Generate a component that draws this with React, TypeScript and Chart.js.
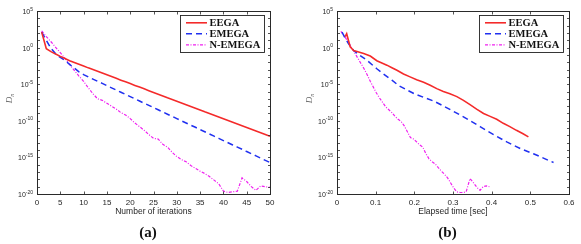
import React, { useEffect, useRef } from 'react';
import { Chart, registerables } from 'chart.js';

Chart.register(...registerables);

// ---------- data ----------
const seriesNames = ['EEGA', 'EMEGA', 'N-EMEGA'];
const seriesColors = ['#f42a2a', '#2030f0', '#f020f0'];

// (a) iterations
const iterations = [
  1, 2, 3, 4, 5, 6, 7, 8, 9, 10, 11, 12, 13, 14, 15, 16, 17, 18, 19, 20, 21, 22, 23, 24, 25,
  26, 27, 28, 29, 30, 31, 32, 33, 34, 35, 36, 37, 38, 39, 40, 41, 42, 43, 44, 45, 46, 47, 48, 49, 50,
];
const eegaIter = [
  1.3e2, 7.0e-1, 2.8e-1, 1.3e-1, 6.3e-2, 3.2e-2, 1.6e-2, 9.1e-3, 5.2e-3, 3.0e-3,
  1.7e-3, 1.0e-3, 5.8e-4, 3.3e-4, 1.9e-4, 1.1e-4, 6.3e-5, 3.6e-5, 2.1e-5, 1.2e-5,
  6.9e-6, 4.0e-6, 2.3e-6, 1.3e-6, 7.6e-7, 4.4e-7, 2.5e-7, 1.4e-7, 8.3e-8, 4.8e-8,
  2.8e-8, 1.6e-8, 9.1e-9, 5.2e-9, 3.0e-9, 1.7e-9, 1.0e-9, 5.8e-10, 3.3e-10, 1.9e-10,
  1.1e-10, 6.3e-11, 3.6e-11, 2.1e-11, 1.2e-11, 6.9e-12, 4.0e-12, 2.3e-12, 1.3e-12, 7.6e-13,
];
const emegaIter = [
  1.3e2, 1.0e1, 7.9e-1, 1.4e-1, 4.5e-2, 1.8e-2, 5.0e-3, 1.6e-3, 5.0e-4, 2.0e-4,
  1.0e-4, 5.0e-5, 2.5e-5, 1.3e-5, 6.3e-6, 3.2e-6, 1.6e-6, 7.9e-7, 4.0e-7, 2.0e-7,
  1.0e-7, 5.0e-8, 2.5e-8, 1.3e-8, 6.3e-9, 3.2e-9, 1.6e-9, 7.9e-10, 4.0e-10, 2.0e-10,
  1.0e-10, 5.0e-11, 2.5e-11, 1.3e-11, 6.3e-12, 3.2e-12, 1.6e-12, 7.9e-13, 4.0e-13, 2.0e-13,
  1.0e-13, 5.0e-14, 2.5e-14, 1.3e-14, 6.3e-15, 3.2e-15, 1.6e-15, 7.9e-16, 4.0e-16, 2.0e-16,
];
const nemegaIter = [
  2.0e2, 3.2e1, 6.3e0, 1.1e0, 2.0e-1, 3.5e-2, 5.0e-3, 7.9e-4, 1.3e-4, 2.5e-5,
  3.2e-6, 5.0e-7, 1.0e-7, 6.3e-8, 2.5e-8, 1.0e-8, 4.0e-9, 1.3e-9, 6.3e-10, 2.0e-10,
  5.0e-11, 1.6e-11, 5.0e-12, 1.3e-12, 4.0e-13, 3.2e-13, 6.3e-14, 2.5e-14, 5.0e-15, 1.3e-15,
  5.0e-16, 2.5e-16, 7.9e-17, 3.2e-17, 1.3e-17, 6.3e-18, 2.5e-18, 7.9e-19, 2.5e-19, 2.5e-20,
  1.6e-20, 2.0e-20, 2.5e-20, 1.6e-18, 5.0e-19, 1.0e-19, 3.2e-20, 1.3e-19, 1.0e-19, 7.9e-20,
];

// (b) elapsed time [sec]
const eegaTime = [
  0.021, 0.025, 0.034, 0.043, 0.056, 0.069, 0.086, 0.103, 0.116, 0.129, 0.142, 0.155, 0.172,
  0.189, 0.206, 0.224, 0.241, 0.258, 0.275, 0.292, 0.310, 0.327, 0.344, 0.361, 0.379, 0.396,
  0.413, 0.430, 0.447, 0.464, 0.480, 0.495,
];
const eegaTimeVals = [
  3.2e1, 7.9e1, 1.3e0, 4.0e-1, 2.5e-1, 1.6e-1, 7.1e-2, 1.6e-2, 7.9e-3, 4.0e-3, 1.8e-3, 7.9e-4, 2.5e-4,
  1.0e-4, 4.0e-5, 1.8e-5, 7.1e-6, 2.5e-6, 1.0e-6, 5.0e-7, 2.0e-7, 6.3e-8, 1.6e-8, 4.0e-9, 1.0e-9, 4.0e-10,
  1.6e-10, 4.5e-11, 1.6e-11, 5.0e-12, 1.8e-12, 6.3e-13,
];
const emegaTime = [
  0.013, 0.020, 0.030, 0.043, 0.060, 0.077, 0.090, 0.103, 0.120, 0.142, 0.160, 0.181, 0.200,
  0.224, 0.250, 0.276, 0.301, 0.335, 0.370, 0.405, 0.439, 0.474, 0.508, 0.534, 0.560,
];
const emegaTimeVals = [
  1.3e2, 2.5e1, 3.2e0, 4.0e-1, 7.9e-2, 2.0e-2, 5.0e-3, 1.3e-3, 2.5e-4, 3.5e-5, 6.3e-6, 1.6e-6, 5.0e-7,
  1.6e-7, 5.0e-8, 1.0e-8, 2.0e-9, 2.0e-10, 1.6e-11, 1.3e-12, 1.3e-13, 1.6e-14, 3.2e-15, 7.9e-16, 2.0e-16,
];
const nemegaTime = [
  0.010, 0.020, 0.030, 0.040, 0.050, 0.060, 0.070, 0.078, 0.086, 0.094, 0.102, 0.110, 0.118, 0.126,
  0.134, 0.142, 0.150, 0.158, 0.166, 0.174, 0.182, 0.190, 0.198, 0.206, 0.214, 0.222, 0.230, 0.238,
  0.246, 0.254, 0.262, 0.270, 0.278, 0.286, 0.294, 0.302, 0.310, 0.318, 0.326, 0.334, 0.344, 0.352,
  0.362, 0.370, 0.378, 0.386, 0.394,
];
const nemegaTimeVals = [
  1.6e2, 3.2e1, 5.0e0, 6.3e-1, 7.9e-2, 1.0e-2, 1.3e-3, 2.0e-4, 2.5e-5, 4.0e-6, 6.3e-7, 1.3e-7, 3.2e-8, 7.9e-9,
  3.2e-9, 1.3e-9, 4.0e-10, 1.6e-10, 7.9e-11, 2.0e-11, 3.2e-12, 5.0e-13, 3.2e-13, 1.3e-13, 5.0e-14, 2.5e-14, 3.2e-15, 6.3e-16,
  2.5e-16, 1.3e-16, 4.0e-17, 1.3e-17, 5.0e-18, 1.6e-18, 3.2e-19, 6.3e-20, 2.0e-20, 1.6e-20, 1.6e-20, 2.0e-20, 1.3e-18, 4.0e-19,
  7.9e-20, 3.2e-20, 1.0e-19, 1.3e-19, 1.0e-19,
];

// ticks
const yMajorTicks = [1e5, 1e0, 1e-5, 1e-10, 1e-15, 1e-20];
const yMajorExpLabels = ['5', '0', '-5', '-10', '-15', '-20'];
const yMinorTicks = [
  1e5, 1e4, 1e3, 1e2, 1e1, 1e0, 1e-1, 1e-2, 1e-3, 1e-4, 1e-5, 1e-6, 1e-7, 1e-8, 1e-9, 1e-10,
  1e-11, 1e-12, 1e-13, 1e-14, 1e-15, 1e-16, 1e-17, 1e-18, 1e-19, 1e-20,
];
const xTicksIter = [0, 5, 10, 15, 20, 25, 30, 35, 40, 45, 50];
const xTickLabelsIter = ['0', '5', '10', '15', '20', '25', '30', '35', '40', '45', '50'];
const xTicksTime = [0, 0.1, 0.2, 0.3, 0.4, 0.5, 0.6];
const xTickLabelsTime = ['0', '0.1', '0.2', '0.3', '0.4', '0.5', '0.6'];

// ---------- styling ----------
const SANS = '"Liberation Sans", Arial, Helvetica, sans-serif';
const SERIF = '"Liberation Serif", "Times New Roman", serif';
const dashes: number[][] = [[], [6, 4], [3, 1.5, 1, 1.5]];
const widths = [1.6, 1.5, 1.2];

function pts(xs: number[], ys: number[]) {
  return xs.map((x, i) => ({ x, y: ys[i] }));
}

function makeDatasets(series: { x: number; y: number }[][]) {
  return series.map((data, i) => ({
    label: seriesNames[i],
    data,
    borderColor: seriesColors[i],
    backgroundColor: seriesColors[i],
    borderWidth: widths[i],
    borderDash: dashes[i],
    pointRadius: 0,
    fill: false,
    tension: 0,
  }));
}

function decorPlugin(cfg: {
  xTicks: number[];
  xLabels: string[];
  xTitle: string;
  caption: string;
}) {
  return {
    id: 'matlabDecor',
    afterDatasetsDraw(chart: any) {
      const { ctx, chartArea: ca } = chart;
      const xs = chart.scales.x;
      const ys = chart.scales.y;
      ctx.save();
      // frame
      ctx.strokeStyle = '#2a2a2a';
      ctx.lineWidth = 1;
      ctx.setLineDash([]);
      const L = Math.round(ca.left) + 0.5;
      const R = Math.round(ca.right) + 0.5;
      const T = Math.round(ca.top) + 0.5;
      const B = Math.round(ca.bottom) + 0.5;
      ctx.strokeRect(L, T, R - L, B - T);
      // ticks
      ctx.lineWidth = 0.8;
      ctx.beginPath();
      cfg.xTicks.forEach((v) => {
        const px = Math.round(xs.getPixelForValue(v)) + 0.5;
        ctx.moveTo(px, B);
        ctx.lineTo(px, B - 3);
        ctx.moveTo(px, T);
        ctx.lineTo(px, T + 3);
      });
      yMinorTicks.forEach((v) => {
        const py = Math.round(ys.getPixelForValue(v)) + 0.5;
        ctx.moveTo(L, py);
        ctx.lineTo(L + 2.5, py);
        ctx.moveTo(R, py);
        ctx.lineTo(R - 2.5, py);
      });
      ctx.stroke();

      // x tick labels
      ctx.fillStyle = '#262626';
      ctx.font = `8px ${SANS}`;
      ctx.textAlign = 'center';
      ctx.textBaseline = 'middle';
      cfg.xTicks.forEach((v, i) => {
        ctx.fillText(cfg.xLabels[i], xs.getPixelForValue(v), ca.bottom + 8.5);
      });
      // x title
      ctx.font = `8.5px ${SANS}`;
      ctx.fillText(cfg.xTitle, (ca.left + ca.right) / 2, ca.bottom + 18);

      // y tick labels (10 with superscript)
      ctx.textAlign = 'left';
      ctx.textBaseline = 'alphabetic';
      yMajorTicks.forEach((v, i) => {
        const py = ys.getPixelForValue(v);
        const exp = yMajorExpLabels[i];
        ctx.font = `5px ${SANS}`;
        const ew = ctx.measureText(exp).width;
        ctx.font = `7px ${SANS}`;
        const bw = ctx.measureText('10').width;
        const xEnd = ca.left - 4;
        ctx.fillText('10', xEnd - ew - bw, py + 3);
        ctx.font = `5px ${SANS}`;
        ctx.fillText(exp, xEnd - ew, py - 0.5);
      });

      // y title D_n
      ctx.save();
      ctx.translate(ca.left - 27, ca.top + 87);
      ctx.rotate(-Math.PI / 2);
      ctx.fillStyle = '#666';
      ctx.font = `italic 9px ${SERIF}`;
      ctx.textAlign = 'left';
      ctx.textBaseline = 'middle';
      const dw = ctx.measureText('D').width;
      ctx.fillText('D', -dw / 2 - 2, 0);
      ctx.font = `italic 6px ${SERIF}`;
      ctx.fillText('n', dw / 2 - 2, 2.5);
      ctx.restore();

      // legend
      const bx = ca.right - 84 - 6;
      const by = ca.top + 4;
      const bw2 = 84;
      const bh = 37;
      ctx.fillStyle = '#fff';
      ctx.fillRect(bx, by, bw2, bh);
      ctx.strokeStyle = '#222';
      ctx.lineWidth = 0.9;
      ctx.strokeRect(Math.round(bx) + 0.5, Math.round(by) + 0.5, bw2, bh);
      chart.data.datasets.forEach((ds: any, i: number) => {
        const ry = by + 7.8 + i * 11;
        ctx.strokeStyle = ds.borderColor;
        ctx.lineWidth = ds.borderWidth;
        ctx.setLineDash(ds.borderDash || []);
        ctx.beginPath();
        ctx.moveTo(bx + 6, ry);
        ctx.lineTo(bx + 27, ry);
        ctx.stroke();
        ctx.setLineDash([]);
        ctx.fillStyle = '#111';
        ctx.font = `bold 10.5px ${SERIF}`;
        ctx.textAlign = 'left';
        ctx.textBaseline = 'middle';
        ctx.fillText(ds.label, bx + 29.5, ry + 0.5);
      });

      // caption
      ctx.fillStyle = '#111';
      ctx.font = `bold 15px ${SERIF}`;
      ctx.textAlign = 'center';
      ctx.textBaseline = 'middle';
      ctx.fillText(cfg.caption, (ca.left + ca.right) / 2 - 5.5, 233);
      ctx.restore();
    },
  };
}

type PanelProps = {
  left: number;
  width: number;
  padLeft: number;
  padRight: number;
  xMax: number;
  series: { x: number; y: number }[][];
  xTicks: number[];
  xLabels: string[];
  xTitle: string;
  caption: string;
};

function Panel(p: PanelProps) {
  const ref = useRef<HTMLCanvasElement>(null);
  useEffect(() => {
    const chart = new Chart(ref.current as HTMLCanvasElement, {
      type: 'line',
      data: { datasets: makeDatasets(p.series) as any },
      options: {
        responsive: false,
        animation: false,
        devicePixelRatio: 1,
        layout: { padding: { left: p.padLeft, right: p.padRight, top: 11, bottom: 50 } },
        scales: {
          x: { type: 'linear', min: 0, max: p.xMax, display: false },
          y: { type: 'logarithmic', min: 1e-20, max: 1e5, display: false },
        },
        plugins: { legend: { display: false }, tooltip: { enabled: false } },
        elements: { point: { radius: 0 } },
      },
      plugins: [
        decorPlugin({ xTicks: p.xTicks, xLabels: p.xLabels, xTitle: p.xTitle, caption: p.caption }),
      ],
    } as any);
    return () => chart.destroy();
  }, []);
  return (
    <canvas
      ref={ref}
      width={p.width}
      height={244}
      style={{ position: 'absolute', left: p.left, top: 0, width: p.width, height: 244 }}
    />
  );
}

export default function App() {
  return (
    <div
      style={{
        position: 'absolute',
        left: 0,
        top: 0,
        width: 581,
        height: 244,
        background: '#fff',
        overflow: 'hidden',
      }}
    >
      <Panel
        left={0}
        width={290}
        padLeft={37}
        padRight={20}
        xMax={50}
        series={[pts(iterations, eegaIter), pts(iterations, emegaIter), pts(iterations, nemegaIter)]}
        xTicks={xTicksIter}
        xLabels={xTickLabelsIter}
        xTitle="Number of iterations"
        caption="(a)"
      />
      <Panel
        left={290}
        width={291}
        padLeft={47}
        padRight={12}
        xMax={0.6}
        series={[
          pts(eegaTime, eegaTimeVals),
          pts(emegaTime, emegaTimeVals),
          pts(nemegaTime, nemegaTimeVals),
        ]}
        xTicks={xTicksTime}
        xLabels={xTickLabelsTime}
        xTitle="Elapsed time [sec]"
        caption="(b)"
      />
    </div>
  );
}
